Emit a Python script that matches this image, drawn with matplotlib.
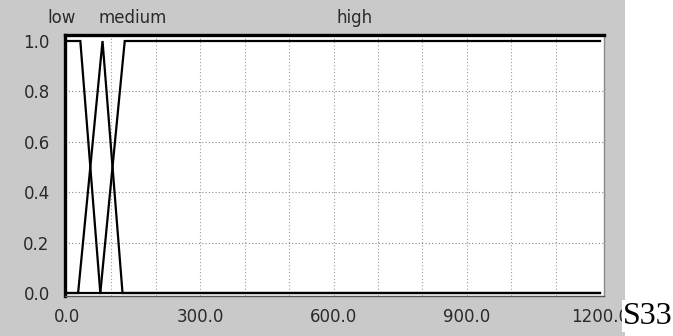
import matplotlib
matplotlib.use("Agg")
import matplotlib.pyplot as plt
from matplotlib.patches import Rectangle

# Membership functions (piecewise linear)
low_x = [0, 30, 75, 1200]
low_y = [1, 1, 0, 0]
medium_x = [0, 25, 80, 125, 1200]
medium_y = [0, 0, 1, 0, 0]
high_x = [0, 75, 130, 1200]
high_y = [0, 0, 1, 1]

x_ticks = [0, 300, 600, 900, 1200]
x_tick_labels = ["0.0", "300.0", "600.0", "900.0", "1200.0"]
y_ticks = [0.0, 0.2, 0.4, 0.6, 0.8, 1.0]
y_tick_labels = ["0.0", "0.2", "0.4", "0.6", "0.8", "1.0"]
set_labels = ["low", "medium", "high"]

W, H = 673, 336
fig = plt.figure(figsize=(W / 100, H / 100), dpi=100, facecolor="white")

# gray panel background
fig.patches.append(Rectangle((0, 0), 625 / W, 1, transform=fig.transFigure,
                             facecolor="#c9c9c9", edgecolor="none", zorder=-10))

left_px, right_px, top_px, bot_px = 65, 604, 35, 296
ax = fig.add_axes([left_px / W, 1 - bot_px / H, (right_px - left_px) / W, (bot_px - top_px) / H])
ax.set_zorder(1)
ax.set_facecolor("white")
sx = 533 / 1200.0
ax.set_xlim(-(67 - left_px) / sx, 1200 + (right_px - 600) / sx)
sy = 252.0
ax.set_ylim(-(bot_px - 293) / sy, 1 + (41 - top_px) / sy)

# grid
for gx in range(100, 1200, 100):
    ax.axvline(gx, color="#9a9a9a", lw=0.8, ls=(0, (1, 2)), zorder=1)
for gy in [0.2, 0.4, 0.6, 0.8]:
    ax.axhline(gy, color="#8a8a8a", lw=0.8, ls=(0, (1, 2)), zorder=1)

for xs, ys in [(low_x, low_y), (medium_x, medium_y), (high_x, high_y)]:
    ax.plot(xs, ys, color="black", lw=1.6, zorder=3, solid_joinstyle="miter")

ax.set_xticks(x_ticks)
ax.set_xticklabels(x_tick_labels)
ax.set_yticks(y_ticks)
ax.set_yticklabels(y_tick_labels)
ax.tick_params(length=0, labelsize=12, labelcolor="#2a2a2a")
ax.tick_params(axis="x", pad=9)
ax.tick_params(axis="y", pad=11)

ax.spines["left"].set_linewidth(2.4)
ax.spines["top"].set_linewidth(2.4)
ax.spines["left"].set_color("black")
ax.spines["top"].set_color("black")
ax.spines["right"].set_color("#8a8a8a")
ax.spines["right"].set_linestyle((0, (1, 1)))
ax.spines["right"].set_linewidth(1.0)
ax.spines["bottom"].set_color("#555555")
ax.spines["bottom"].set_linestyle((0, (1, 1)))
ax.spines["bottom"].set_linewidth(1.0)

# set names above plot
label_pos = [(47, 18), (98, 18), (337, 18)]
for name, (px, py) in zip(set_labels, label_pos):
    fig.text(px / W, 1 - py / H, name, fontsize=12, color="#2a2a2a",
             ha="left", va="center")

fig.text(623 / W, 1 - 316 / H, "S33", family="Liberation Serif", fontsize=23,
         color="black", ha="left", va="center",
         bbox=dict(facecolor="white", edgecolor="none", pad=1.0), zorder=10)

fig.savefig("out.png", dpi=100, facecolor=fig.get_facecolor())
